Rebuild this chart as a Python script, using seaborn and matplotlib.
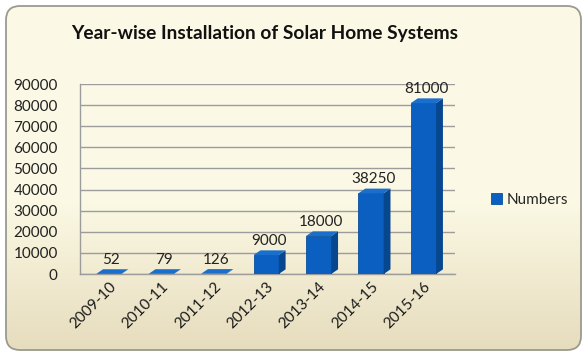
import numpy as np
import pandas as pd
import matplotlib
matplotlib.use("Agg")
import matplotlib.pyplot as plt
from matplotlib.patches import FancyBboxPatch, Polygon
import seaborn as sns

years = ["2009-10", "2010-11", "2011-12", "2012-13", "2013-14", "2014-15", "2015-16"]
numbers = [52, 79, 126, 9000, 18000, 38250, 81000]
yticks = [0, 10000, 20000, 30000, 40000, 50000, 60000, 70000, 80000, 90000]
title = "Year-wise Installation of Solar Home Systems"
series_name = "Numbers"

df = pd.DataFrame({"Year": years, "Numbers": numbers})

sns.set_theme(style="white")
plt.rcParams["font.family"] = ["Lato", "DejaVu Sans"]

W, H = 587, 356
fig = plt.figure(figsize=(W / 100, H / 100), dpi=100)
fig.patch.set_facecolor("white")

# background panel with gradient and rounded border
bg = fig.add_axes([0, 0, 1, 1])
bg.set_xlim(0, W)
bg.set_ylim(H, 0)
bg.axis("off")
grad = np.linspace(0, 1, 256).reshape(-1, 1)
top = np.array([0.988, 0.980, 0.900])
bot = np.array([0.905, 0.865, 0.745])
t = np.clip((grad - 0.55) / 0.45, 0, 1)
img = top + (bot - top) * t[..., None]
img = img.reshape(256, 1, 3)
im = bg.imshow(img, extent=[6, 581, 350, 6], aspect="auto", zorder=0)
patch = FancyBboxPatch((6, 6), 575, 344, boxstyle="round,pad=0,rounding_size=14",
                       facecolor="none", edgecolor="#9a9a90", linewidth=1.3, zorder=2)
bg.add_patch(patch)
im.set_clip_path(patch)

ax = fig.add_axes([80 / W, 1 - 274 / H, (455 - 80) / W, (274 - 84) / H])
ax.patch.set_alpha(0)
sns.barplot(data=df, x="Year", y="Numbers", color="#0a5fc0", saturation=1, width=0.48,
            edgecolor="#0a4f9c", linewidth=0.6, ax=ax, label=series_name, zorder=3)
ax.set_ylim(0, 90000)
ax.set_xlim(-0.55, len(years) - 0.4)

# pseudo 3D side and top faces derived from the drawn bars
dx, dy = 0.13, 2200
for p in list(ax.patches):
    x0, y0 = p.get_x(), p.get_y()
    w, h = p.get_width(), p.get_height()
    side = Polygon([(x0 + w, y0), (x0 + w + dx, y0 + dy), (x0 + w + dx, y0 + h + dy), (x0 + w, y0 + h)],
                   closed=True, facecolor="#06478f", edgecolor="none", zorder=3)
    topf = Polygon([(x0, y0 + h), (x0 + w, y0 + h), (x0 + w + dx, y0 + h + dy), (x0 + dx, y0 + h + dy)],
                   closed=True, facecolor="#1a6fcc", edgecolor="none", zorder=3)
    ax.add_patch(side)
    ax.add_patch(topf)

ax.set_yticks(yticks)
ax.set_yticklabels([str(v) for v in yticks], fontsize=11, color="#222222")
ax.set_xlabel("")
ax.set_ylabel("")
ax.tick_params(axis="x", labelsize=11, labelcolor="#1a1a1a", rotation=45, length=0, pad=4)
for lbl in ax.get_xticklabels():
    lbl.set_ha("right")
    lbl.set_rotation_mode("anchor")
ax.tick_params(axis="y", length=0, pad=16)
ax.grid(axis="y", color="#9c9c9c", linewidth=1.0, zorder=0)
ax.set_axisbelow(True)
for s in ["top", "right"]:
    ax.spines[s].set_visible(False)
for s in ["left", "bottom"]:
    ax.spines[s].set_color("#9c9c9c")
    ax.spines[s].set_linewidth(1.0)

for i, v in enumerate(numbers):
    ax.text(i + 0.05, v + 3300, str(v), ha="center", va="bottom", fontsize=11, color="#222222")

ax.legend(loc="center left", bbox_to_anchor=(1.06, 0.39), frameon=False,
          fontsize=11, handlelength=0.7, handleheight=0.7, handletextpad=0.3)

fig.text(265 / W, 1 - 33 / H, title, ha="center", va="center", fontsize=13.8,
         fontweight="bold", color="#111111")

fig.savefig("out.png", dpi=100)
